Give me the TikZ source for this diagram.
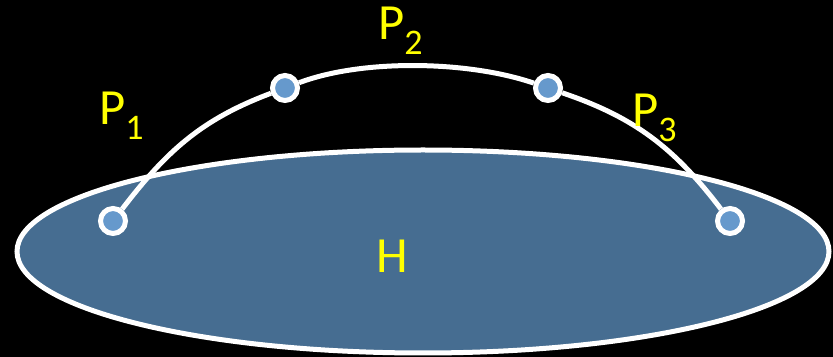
\documentclass[tikz,border=0pt]{standalone}
\usepackage{fontspec}
\setmainfont{Carlito}
\usetikzlibrary{positioning}

\definecolor{skyfill}{HTML}{466D91}
\definecolor{dotfill}{HTML}{6699CC}
\definecolor{labyellow}{HTML}{FFFF00}

\newcommand{\lowsub}[1]{\raisebox{-11.25pt}{\fontsize{27}{30}\selectfont #1}}

\tikzset{
  dot/.style={circle,draw=white,fill=dotfill,line width=3.75pt,minimum size=18.75pt,inner sep=0pt},
  lab/.style={text=labyellow,font=\fontsize{38}{40}\selectfont,inner sep=0pt,anchor=base west},
  arcline/.style={draw=white,line width=3.75pt}
}

\begin{document}
\begin{tikzpicture}[x=0.75pt,y=0.75pt]
\fill[black] (0,0) rectangle (833,357);
\useasboundingbox (0,0) rectangle (833,357);
% the surface
\draw[white,fill=skyfill,line width=3.75pt] (423,105.5) ellipse [x radius=406, y radius=101.5];
% points
\node[dot] (p1) at (113,136) {};
\node[dot] (p2) at (285,269) {};
\node[dot] (p3) at (548,269) {};
\node[dot] (p4) at (730,136) {};
\draw[arcline] (p1) to[out=52.7,in=200.7] (p2)
  to[out=20.7,in=161.1,looseness=0.75] (p3)
  to[out=-18.9,in=127.3] (p4);
% labels
\node[lab] (lp1) at (99,232) {P\lowsub{1}};
\node[lab] (lp2) at (378,317) {P\lowsub{2}};
\node[lab] (lp3) at (632,230) {P\lowsub{3}};
\node[lab] (lh) at (376,84) {H};
\end{tikzpicture}
\end{document}
